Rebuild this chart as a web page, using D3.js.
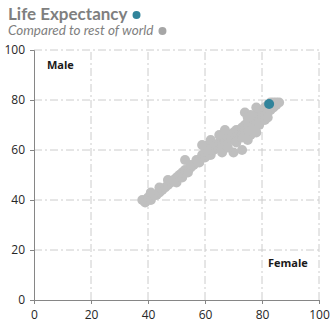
<!DOCTYPE html>
<html><head><meta charset="utf-8">
<script src="https://cdn.jsdelivr.net/npm/d3@7"></script>
<style>body{margin:0;background:#fff}svg{display:block}</style>
</head><body>
<script>
const xTicks = [0,20,40,60,80,100];
const yTicks = [0,20,40,60,80,100];
const femaleLE = [38,39,40,41,42,41,43,44,45,44,46,47,48,47,49,50,50,51,52,52,
 53,54,53,55,55,56,57,57,58,58,59,59,60,60,61,61,62,62,60,63,61,63,59,62,
 64,64,65,65,66,66,66,67,67,67,68,68,68,69,69,69,70,70,70,71,71,71,72,72,72,66,70,73,71,73,68,65,67,
 73,73,73,74,74,74,74,75,75,75,75,76,76,76,76,77,77,77,77,78,78,78,78,79,79,79,79,80,80,80,80,74,76,78,75,77,79,76,78,75,
 81,81,81,81,82,82,82,82,83,83,83,83,84,84,84,85,85,86,81,82];
const maleLE = [40,39,41,40,42,43,42,43,44,45,45,46,47,48,48,49,47,50,49,51,
 52,51,56,53,54,54,55,56,56,55,57,58,57,58,58,59,58,60,61,60,62,61,62,64,
 61,62,62,63,63,64,62,63,64,65,64,65,66,64,65,66,65,66,67,66,67,68,66,67,68,59,59,60,63,65,61,66,68,
 67,68,69,67,68,69,70,68,69,70,71,69,70,71,72,70,71,72,73,71,72,73,74,72,73,74,75,73,74,75,76,75,74,77,73,69,70,66,67,64,
 74,75,76,77,75,76,77,78,76,77,78,79,77,78,79,78,79,79,72,73];
const highlight = {female: 82.5, male: 78.4};

const W = 335, H = 329;
const svg = d3.select("body").append("svg").attr("width", W).attr("height", H);
const x = d3.scaleLinear().domain([0,100]).range([34, 319]);
const y = d3.scaleLinear().domain([0,100]).range([300, 50]);
const font = "'Open Sans', sans-serif";
const tfont = "Lato, 'Open Sans', sans-serif";

// title
const t = svg.append("text").attr("x", 8).attr("y", 19.5)
  .attr("font-family", tfont).attr("font-weight", "bold").attr("font-size", 17)
  .attr("fill", "#7f7f7f").text("Life Expectancy");
const tw = t.node().getComputedTextLength();
svg.append("circle").attr("cx", 8 + tw + 9).attr("cy", 15).attr("r", 4).attr("fill", "#31849b");
const s = svg.append("text").attr("x", 8).attr("y", 35)
  .attr("font-family", tfont).attr("font-style", "italic").attr("font-size", 13.5)
  .attr("fill", "#7f7f7f").text("Compared to rest of world");
const sw = s.node().getComputedTextLength();
svg.append("circle").attr("cx", 8 + sw + 9).attr("cy", 31).attr("r", 4).attr("fill", "#a6a6a6");

// grid
const grid = svg.append("g");
grid.selectAll(".gx").data(xTicks.filter(d => d > 0)).join("line")
  .attr("x1", d => x(d)).attr("x2", d => x(d)).attr("y1", y(0)).attr("y2", y(100))
  .attr("stroke", "#cccccc").attr("stroke-dasharray", "8,3,2,3");
grid.selectAll(".gy").data(yTicks.filter(d => d > 0)).join("line")
  .attr("y1", d => y(d)).attr("y2", d => y(d)).attr("x1", x(0)).attr("x2", x(100))
  .attr("stroke", "#cccccc").attr("stroke-dasharray", "8,3,2,3");

// axes
const xAxis = svg.append("g").attr("transform", `translate(0,${y(0)})`)
  .call(d3.axisBottom(x).tickValues(xTicks).tickSize(4).tickPadding(6));
const yAxis = svg.append("g").attr("transform", `translate(${x(0)},0)`)
  .call(d3.axisLeft(y).tickValues(yTicks).tickSize(4).tickPadding(5));
[xAxis, yAxis].forEach(a => {
  a.select(".domain").attr("stroke", "#868686");
  a.selectAll(".tick line").attr("stroke", "#868686");
  a.selectAll(".tick text").attr("font-family", font).attr("font-size", 12).attr("fill", "#262626");
});

// points
const pts = femaleLE.map((f, i) => ({f, m: maleLE[i]}));
svg.append("g").selectAll("circle").data(pts).join("circle")
  .attr("cx", d => x(d.f)).attr("cy", d => y(d.m)).attr("r", 5).attr("fill", "#bfbfbf");
svg.append("circle").attr("cx", x(highlight.female)).attr("cy", y(highlight.male))
  .attr("r", 5).attr("fill", "#31849b");

// labels
svg.append("text").attr("x", 47).attr("y", 69).attr("font-family", font)
  .attr("font-weight", "bold").attr("font-size", 11).attr("fill", "#1a1a1a").text("Male");
svg.append("text").attr("x", 268).attr("y", 267).attr("font-family", font)
  .attr("font-weight", "bold").attr("font-size", 11).attr("fill", "#1a1a1a").text("Female");
</script>
</body></html>
